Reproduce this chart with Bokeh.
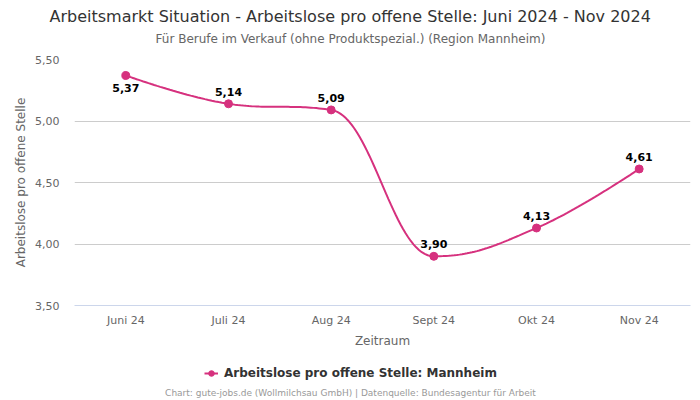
import numpy as np
from bokeh.plotting import figure
from bokeh.layouts import column
from bokeh.models import Label, Legend, LegendItem, FixedTicker, Range1d, Title
from bokeh.core.properties import value
from bokeh.embed import file_html
from bokeh.resources import INLINE

months = ["Juni 24", "Juli 24", "Aug 24", "Sept 24", "Okt 24", "Nov 24"]
values = [5.37, 5.14, 5.09, 3.90, 4.13, 4.61]
value_labels = ["5,37", "5,14", "5,09", "3,90", "4,13", "4,61"]
y_ticks = [3.5, 4.0, 4.5, 5.0, 5.5]
y_tick_labels = ["3,50", "4,00", "4,50", "5,00", "5,50"]

COLOR = "#d6317e"
FONT = "DejaVu Sans"
W = 700
H_TOP, H_MAIN, H_BOT = 53, 297, 50
FL = 74  # frame left inside figures
CX = 350 - FL  # horizontal centre of the chart, relative to frame left


def blank(h):
    f = figure(width=W, height=h, output_backend="svg", toolbar_location=None,
               x_range=Range1d(0, W), y_range=Range1d(0, h),
               x_axis_location=None, y_axis_location=None, min_border=0)
    f.outline_line_color = None
    f.xgrid.visible = False
    f.ygrid.visible = False
    return f


def lab(f, x, y, text, size, color, style="normal"):
    f.add_layout(Label(x=x, y=y, x_units="screen", y_units="screen", text=text,
                       text_font=FONT, text_font_size=size, text_color=color,
                       text_font_style=style, text_align="center",
                       text_baseline="middle"))


# header
top = blank(H_TOP)
top.title = Title(text="Arbeitsmarkt Situation - Arbeitslose pro offene Stelle: Juni 2024 - Nov 2024",
                  align="left", offset=49 - FL, text_font=FONT, text_font_size="16px",
                  text_font_style="normal", text_color="#333333", standoff=8)
lab(top, CX, 15, "Für Berufe im Verkauf (ohne Produktspezial.) (Region Mannheim)", "12px", "#666666")

# main chart
p = figure(width=W, height=H_MAIN, output_backend="svg", toolbar_location=None,
           x_range=Range1d(-0.5, 5.5), y_range=Range1d(3.5, 5.5),
           min_border_left=FL, min_border_right=10, min_border_top=6, min_border_bottom=45)
p.outline_line_color = None

# Highcharts-like spline
xs = list(range(len(values)))
ys = values
n = len(xs)
sm = 1.5
den = sm + 1
lc = [(xs[i], ys[i]) for i in range(n)]
rc = [(xs[i], ys[i]) for i in range(n)]
for i in range(1, n - 1):
    px, py = xs[i], ys[i]
    lx, ly = xs[i - 1], ys[i - 1]
    nx, ny = xs[i + 1], ys[i + 1]
    lcx = (sm * px + lx) / den
    lcy = (sm * py + ly) / den
    rcx = (sm * px + nx) / den
    rcy = (sm * py + ny) / den
    corr = (rcy - lcy) * (rcx - px) / (rcx - lcx) + py - rcy
    lcy += corr
    rcy += corr
    if lcy > ly and lcy > py:
        lcy = max(ly, py); rcy = 2 * py - lcy
    elif lcy < ly and lcy < py:
        lcy = min(ly, py); rcy = 2 * py - lcy
    if rcy > ny and rcy > py:
        rcy = max(ny, py); lcy = 2 * py - rcy
    elif rcy < ny and rcy < py:
        rcy = min(ny, py); lcy = 2 * py - rcy
    lc[i] = (lcx, lcy)
    rc[i] = (rcx, rcy)

cx, cy = [], []
t = np.linspace(0, 1, 40)
for i in range(1, n):
    p0 = np.array([xs[i - 1], ys[i - 1]])
    p1 = np.array(rc[i - 1])
    p2 = np.array(lc[i])
    p3 = np.array([xs[i], ys[i]])
    for tt in t:
        b = (1 - tt) ** 3 * p0 + 3 * (1 - tt) ** 2 * tt * p1 + 3 * (1 - tt) * tt ** 2 * p2 + tt ** 3 * p3
        cx.append(b[0]); cy.append(b[1])

p.line(cx, cy, line_color=COLOR, line_width=2)
p.scatter(xs, ys, size=8, fill_color=COLOR, line_color=COLOR)

yoffs = [13 if i == 0 else -12 for i in range(n)]
p.text(xs, ys, text=value_labels, text_font=value(FONT), text_font_size="11px",
       text_font_style="bold", text_color="black", text_align="center",
       text_baseline="middle", y_offset=yoffs)

p.xaxis.ticker = FixedTicker(ticks=xs)
p.xaxis.major_label_overrides = {i: m for i, m in enumerate(months)}
p.yaxis.ticker = FixedTicker(ticks=y_ticks)
p.yaxis.major_label_overrides = {t_: l for t_, l in zip(y_ticks, y_tick_labels)}
for ax in (p.xaxis, p.yaxis):
    ax.major_tick_line_color = None
    ax.minor_tick_line_color = None
    ax.major_tick_out = 0
    ax.major_tick_in = 0
    ax.major_label_text_font = FONT
    ax.major_label_text_font_size = "11px"
    ax.major_label_text_color = "#666666"
    ax.axis_label_text_font = FONT
    ax.axis_label_text_font_size = "12px"
    ax.axis_label_text_color = "#666666"
    ax.axis_label_text_font_style = "normal"
p.yaxis.axis_line_color = None
p.xaxis.axis_line_color = "#ccd6eb"
p.xaxis.major_label_standoff = 8
p.yaxis.major_label_standoff = 15
p.xaxis.axis_label = "Zeitraum"
p.xaxis.axis_label_standoff = 4
p.yaxis.axis_label = "Arbeitslose pro offene Stelle"
p.yaxis.axis_label_standoff = 4
p.xgrid.grid_line_color = None
p.ygrid.grid_line_color = "#cccccc"

# bottom: legend + footer
bot = blank(H_BOT)
bot.extra_x_ranges = {"hidden": Range1d(100, 101)}
lr = bot.line(xs, values, line_color=COLOR, line_width=2, x_range_name="hidden")
sr = bot.scatter(xs, values, size=8, fill_color=COLOR, line_color=COLOR, x_range_name="hidden")
legend = Legend(items=[LegendItem(label="Arbeitslose pro offene Stelle: Mannheim", renderers=[lr, sr])],
                location=(130, 19), orientation="horizontal",
                background_fill_alpha=0, border_line_alpha=0, padding=0, margin=0,
                glyph_width=14, glyph_height=16, label_height=16, label_standoff=6,
                label_text_font=FONT, label_text_font_size="12px", label_text_font_style="bold",
                label_text_color="#333333")
bot.add_layout(legend, "center")
lab(bot, CX, 8, "Chart: gute-jobs.de (Wollmilchsau GmbH) | Datenquelle: Bundesagentur für Arbeit", "9px", "#999999")

layout = column(top, p, bot, spacing=0)
open("out.html", "w").write(file_html(layout, INLINE))
